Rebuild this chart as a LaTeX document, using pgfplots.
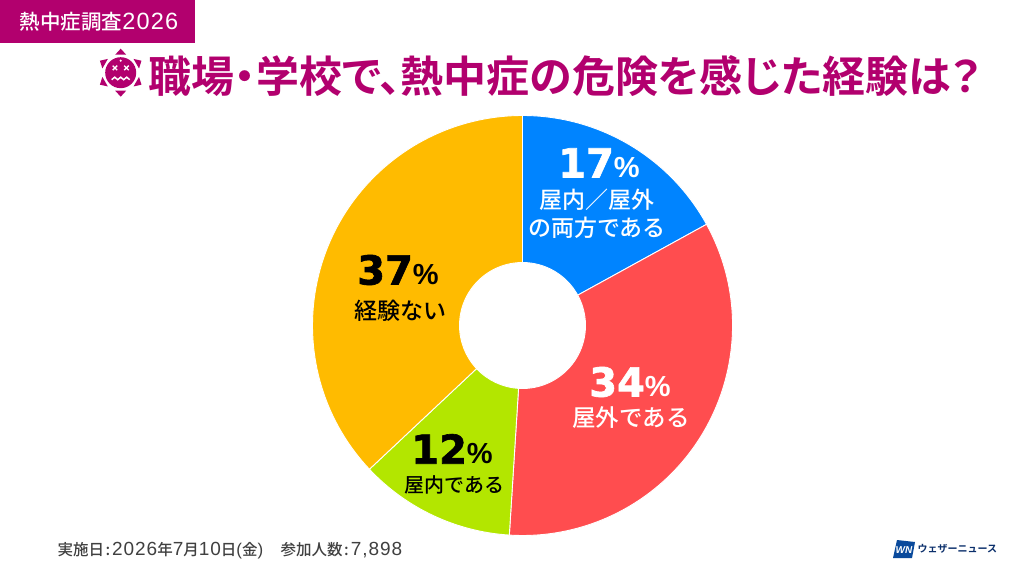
\documentclass[border=0pt]{standalone}
\usepackage{fontspec}
\usepackage{pgfplots}
\usepackage{pgfplotstable}
\pgfplotsset{compat=1.18}
\setmainfont{Noto Sans CJK JP}[UprightFont=* Medium,BoldFont=* Bold]
\newfontfamily\titlefont{Noto Sans CJK JP}[RawFeature=+palt,BoldFont=* Bold]
\newfontfamily\numfont{DejaVu Sans}[BoldFeatures={FakeBold=1.6}]
\newfontfamily\psfont{Liberation Sans}
\newfontfamily\latfont{Liberation Sans}[LetterSpace=5]

\definecolor{magentaw}{HTML}{B2006E}
\definecolor{slice0}{HTML}{0084FF}
\definecolor{slice1}{HTML}{FF4D4F}
\definecolor{slice2}{HTML}{B3E600}
\definecolor{slice3}{HTML}{FFBB00}
\definecolor{wnblue}{HTML}{0A4A9C}
\definecolor{wnnavy}{HTML}{0B2F6B}

% share of each answer, cum = share of the slices before it
\pgfplotstableread{
x y idx pct cum
522.5 325.5 0 17 0
522.5 325.5 1 34 17
522.5 325.5 2 12 51
522.5 325.5 3 37 63
}\slices

\pgfdeclareplotmark{nodraw}{}

\newcommand{\pct}[2]{{\numfont\bfseries\fontsize{#1}{#1}\selectfont #2}}
\newcommand{\psign}[1]{{\psfont\bfseries\fontsize{#1}{#1}\selectfont\%}}
\newcommand{\lat}[2]{{\latfont\fontsize{#1}{#1}\selectfont #2}}

\begin{document}
\begin{tikzpicture}
\begin{axis}[
  width=1024pt, height=576pt, scale only axis,
  xmin=0, xmax=1024, ymin=0, ymax=576, y dir=reverse,
  hide axis, clip=false, set layers,
]
\fill[white] (axis cs:0,0) rectangle (axis cs:1024,576);

\addplot[
  scatter, only marks, mark=nodraw,
  visualization depends on={\thisrow{idx} \as \sliceidx},
  visualization depends on={\thisrow{pct} \as \slicepct},
  visualization depends on={\thisrow{cum} \as \slicecum},
  scatter/@pre marker code/.code={%
    \pgfmathtruncatemacro\k{\sliceidx}%
    \pgfmathsetmacro\angA{90-3.6*\slicecum}%
    \pgfmathsetmacro\angB{90-3.6*(\slicecum+\slicepct)}%
    \scope
    \filldraw[fill=slice\k, draw=white, line width=0.9pt]
      (\angA:63pt) -- (\angA:210pt)
      arc[start angle=\angA, end angle=\angB, radius=210pt]
      -- (\angB:63pt)
      arc[start angle=\angB, end angle=\angA, radius=63pt] -- cycle;
  },
  scatter/@post marker code/.code={\endscope},
] table[x=x, y=y] {\slices};

\begin{pgfonlayer}{axis foreground}
\tikzset{every node/.append style={inner sep=0pt}}

% header tag
\fill[magentaw] (axis cs:0,0) rectangle (axis cs:195,43);
\node[white, anchor=center, font=\fontsize{20.5}{20.5}\selectfont] at (axis cs:99,21.5) {熱中症調査\lat{23.5}{2026}};

% title
\node[magentaw, anchor=west, font=\titlefont\bfseries\fontsize{43}{43}\selectfont] at (axis cs:145,76) {職場・学校で、熱中症の危険を感じた経験は？};

% heat icon
\begin{scope}[shift={(axis cs:120.7,72.7)}, x=1pt, y=1pt]
  \fill[magentaw] (0,0) circle (15.5);
  \pgfplotsinvokeforeach{30,90,150,210,270,330}{
    \fill[magentaw, rotate=#1] (18,-5.5) -- (24,0) -- (18,5.5) -- cycle;
  }
  \draw[white, line width=1.3pt]
    (-8,7) -- (-3.5,2.5) (-8,2.5) -- (-3.5,7)
    (3.5,7) -- (8,2.5) (3.5,2.5) -- (8,7);
  \draw[white, line width=1.5pt]
    (-9,-7) -- (-6,-4.5) -- (-3,-7) -- (0,-4.5) -- (3,-7) -- (6,-4.5) -- (9,-7);
  \fill[white] (0,12) circle (1.2);
\end{scope}

% slice labels
\node[white] at (axis cs:599,163) {\pct{40}{17}\psign{29}};
\node[white, font=\fontsize{23}{23}\selectfont] at (axis cs:597,200) {屋内／屋外};
\node[white, font=\fontsize{23}{23}\selectfont] at (axis cs:597,228) {の両方である};
\node[white] at (axis cs:630,382) {\pct{40}{34}\psign{29}};
\node[white, font=\fontsize{23.5}{23.5}\selectfont] at (axis cs:631,418) {屋外である};
\node[black] at (axis cs:452,449) {\pct{40}{12}\psign{29}};
\node[black, font=\fontsize{20}{20}\selectfont] at (axis cs:454.5,485) {屋内である};
\node[black] at (axis cs:398,270) {\pct{40}{37}\psign{29}};
\node[black, font=\fontsize{23}{23}\selectfont] at (axis cs:400.5,311) {経験ない};

% footer
\node[black!75, anchor=west, font=\fontsize{15.5}{15.5}\selectfont] at (axis cs:54,551) {実施日\hspace{1.5pt}:\hspace{2pt}\lat{19}{2026}年\lat{19}{7}月\lat{19}{10}日\lat{17}{(}金\lat{17}{)}\hspace{2pt}　参加人数\hspace{1.5pt}:\hspace{2pt}\lat{19}{7,898}};

% logo
\fill[wnblue] (axis cs:897,540) -- (axis cs:915,542) -- (axis cs:912,558) -- (axis cs:893,558) -- cycle;
\node[white, font=\psfont\bfseries\itshape\fontsize{10}{10}\selectfont] at (axis cs:904,550) {WN};
\node[wnnavy, anchor=west, font=\bfseries\fontsize{10}{10}\selectfont] at (axis cs:914,549) {ウェザーニュース};
\end{pgfonlayer}
\end{axis}
\end{tikzpicture}
\end{document}
